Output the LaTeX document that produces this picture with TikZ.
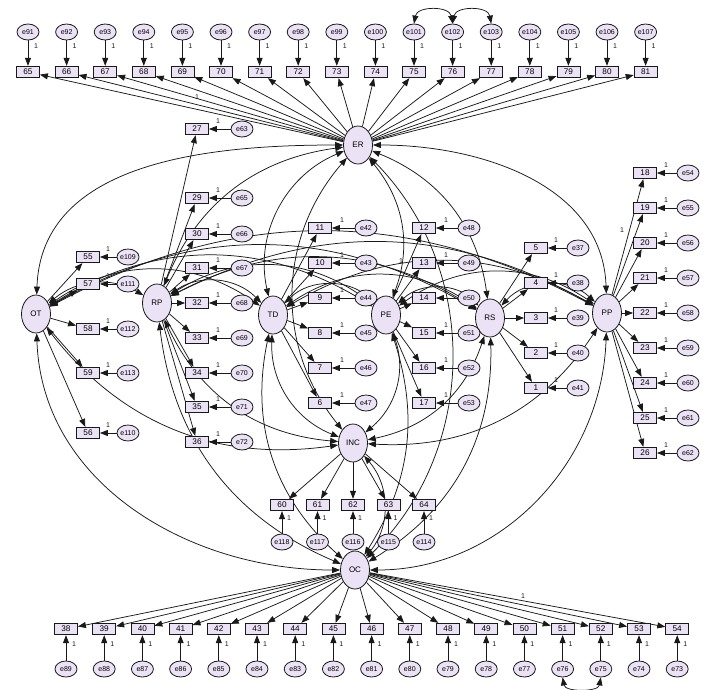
\documentclass[tikz,border=0pt]{standalone}
\usepackage{fontspec}
\setmainfont{Liberation Sans}
\usetikzlibrary{arrows.meta,shapes.geometric,backgrounds}
\definecolor{lav}{RGB}{236,226,245}
\definecolor{ink}{RGB}{25,25,25}
\begin{document}
\begin{tikzpicture}[x=1pt,y=1pt,
  lat/.style={ellipse,draw=ink,line width=0.8pt,fill=lav,minimum width=29pt,minimum height=38pt,inner sep=0pt,font=\fontsize{8}{9}\selectfont},
  obs/.style={rectangle,draw=ink,line width=0.8pt,fill=lav,minimum width=23pt,minimum height=11.5pt,inner sep=0pt,font=\fontsize{8.2}{9}\selectfont},
  err/.style={ellipse,draw=ink,line width=0.8pt,fill=lav,minimum width=22pt,minimum height=16pt,inner sep=0pt,font=\fontsize{7}{8}\selectfont},
  reg/.style={draw=ink,line width=0.75pt,-{Triangle[length=8pt,width=6pt]}},
  cov/.style={draw=ink,line width=0.75pt,{Triangle[length=8pt,width=6pt]}-{Triangle[length=8pt,width=6pt]}},
  one/.style={font=\fontsize{7}{8}\selectfont,inner sep=0pt,text=ink}]
\useasboundingbox (0,0) rectangle (706,-689);

% latent variables
\node[lat] (ER)  at (358,-145) {ER};
\node[lat] (OT)  at (36,-314)  {OT};
\node[lat] (RP)  at (157,-303) {RP};
\node[lat] (TD)  at (273,-315) {TD};
\node[lat] (PE)  at (386,-315) {PE};
\node[lat] (RS)  at (490,-318) {RS};
\node[lat] (PP)  at (607,-313) {PP};
\node[lat] (INC) at (353,-443) {INC};
\node[lat] (OC)  at (355,-570) {OC};

% top row (ER)
\foreach \i in {65,...,81}{
  \pgfmathsetmacro{\xx}{28+38.6*(\i-65)}
  \pgfmathtruncatemacro{\ee}{\i+26}
  \node[obs] (b\i) at (\xx,-72) {\i};
  \node[err] (e\ee) at (\xx,-32) {e\ee};
  \node[one] at (\xx+8,-46) {1};
}
% bottom row (OC)
\foreach \i in {38,...,54}{
  \pgfmathsetmacro{\xx}{66+38.2*(\i-38)}
  \pgfmathtruncatemacro{\ee}{127-\i}
  \node[obs] (b\i) at (\xx,-629) {\i};
  \node[err] (e\ee) at (\xx,-669) {e\ee};
  \node[one] at (\xx+8,-644) {1};
}
% INC row
\foreach \i in {60,...,64}{
  \pgfmathsetmacro{\xx}{282+35.5*(\i-60)}
  \pgfmathtruncatemacro{\ee}{178-\i}
  \node[obs] (b\i) at (\xx,-505) {\i};
  \node[err] (e\ee) at (\xx,-542) {e\ee};
  \node[one] at (\xx+7,-518) {1};
}
% OT column
\foreach \b/\y/\e in {55/257/109,57/284/111,58/329/112,59/373/113,56/433/110}{
  \node[obs] (b\b) at (88,-\y) {\b};
  \node[err] (e\e) at (128,-\y) {e\e};
  \node[one] at (108,-\y+8) {1};
}
% RP column
\foreach \b/\y/\e in {27/129/63,29/198/65,30/234/66,31/268/67,32/303/68,33/338/69,34/373/70,35/407/71,36/442/72}{
  \node[obs] (b\b) at (197,-\y) {\b};
  \node[err] (e\e) at (242,-\y) {e\e};
  \node[one] at (218,-\y+8) {1};
}
% TD column
\foreach \b/\y/\e in {11/228/42,10/263/43,9/298/44,8/333/45,7/368/46,6/403/47}{
  \node[obs] (b\b) at (320,-\y) {\b};
  \node[err] (e\e) at (366,-\y) {e\e};
  \node[one] at (342,-\y+8) {1};
}
% PE column
\foreach \b/\y/\e in {12/228/48,13/263/49,14/298/50,15/333/51,16/368/52,17/403/53}{
  \node[obs] (b\b) at (424,-\y) {\b};
  \node[err] (e\e) at (469,-\y) {e\e};
  \node[one] at (446,-\y+8) {1};
}
% RS column
\foreach \b/\y/\e in {5/248/37,4/283/38,3/318/39,2/353/40,1/388/41}{
  \node[obs] (b\b) at (536,-\y) {\b};
  \node[err] (e\e) at (578,-\y) {e\e};
  \node[one] at (556,-\y+8) {1};
}
% PP column
\foreach \b/\y/\e in {18/173/54,19/208/55,20/243/56,21/278/57,22/313/58,23/348/59,24/383/60,25/418/61,26/453/62}{
  \node[obs] (b\b) at (645,-\y) {\b};
  \node[err] (e\e) at (688,-\y) {e\e};
  \node[one] at (666,-\y+8) {1};
}
% fixed loadings
\node[one] at (197,-97) {1};
\node[one] at (401,-261) {1};
\node[one] at (622,-230) {1};
\node[one] at (523,-596) {1};

\begin{scope}[on background layer]
% loadings and error paths
\foreach \i in {65,...,81}{
  \pgfmathtruncatemacro{\ee}{\i+26}
  \draw[reg] (ER) -- (b\i);
  \draw[reg] (e\ee) -- (b\i);
}
\foreach \i in {38,...,54}{
  \pgfmathtruncatemacro{\ee}{127-\i}
  \draw[reg] (OC) -- (b\i);
  \draw[reg] (e\ee) -- (b\i);
}
\foreach \i in {60,...,64}{
  \pgfmathtruncatemacro{\ee}{178-\i}
  \draw[reg] (INC) -- (b\i);
  \draw[reg] (e\ee) -- (b\i);
}
\foreach \b/\e in {55/109,57/111,58/112,59/113,56/110}{
  \draw[reg] (OT) -- (b\b); \draw[reg] (e\e) -- (b\b);}
\foreach \b/\e in {27/63,29/65,30/66,31/67,32/68,33/69,34/70,35/71,36/72}{
  \draw[reg] (RP) -- (b\b); \draw[reg] (e\e) -- (b\b);}
\foreach \b/\e in {11/42,10/43,9/44,8/45,7/46,6/47}{
  \draw[reg] (TD) -- (b\b); \draw[reg] (e\e) -- (b\b);}
\foreach \b/\e in {12/48,13/49,14/50,15/51,16/52,17/53}{
  \draw[reg] (PE) -- (b\b); \draw[reg] (e\e) -- (b\b);}
\foreach \b/\e in {5/37,4/38,3/39,2/40,1/41}{
  \draw[reg] (RS) -- (b\b); \draw[reg] (e\e) -- (b\b);}
\foreach \b/\e in {18/54,19/55,20/56,21/57,22/58,23/59,24/60,25/61,26/62}{
  \draw[reg] (PP) -- (b\b); \draw[reg] (e\e) -- (b\b);}

% error covariances
\draw[cov] (e101.north) to[out=80,in=100,looseness=1.2] (e102.north);
\draw[cov] (e102.north) to[out=80,in=100,looseness=1.2] (e103.north);
\draw[cov] (e76.south) to[out=-80,in=-100,looseness=1.0] (e75.south);

% latent covariances
\draw[cov] (OT) to[out=88,in=180] (ER);
\draw[cov] (RP) to[bend left=30] (ER);
\draw[cov] (TD) to[bend left=40] (ER);
\draw[cov] (ER) to[bend left=30] (PE);
\draw[cov] (ER) to[bend left=30] (RS);
\draw[cov] (ER) to[out=0,in=92] (PP);
\draw[cov] (ER) to[bend right=40] (INC);
\draw[cov] (ER) to[bend left=45] (OC);
\draw[cov] (OT) to[bend left=35] (RP);
\draw[cov] (OT) to[bend left=35] (TD);
\draw[cov] (OT) to[bend left=32] (PE);
\draw[cov] (OT) to[bend left=30] (RS);
\draw[cov] (OT) to[bend left=28] (PP);
\draw[cov] (OT) to[bend right=30] (INC);
\draw[cov] (OT) to[out=-88,in=180] (OC);
\draw[cov] (RP) to[bend left=40] (TD);
\draw[cov] (RP) to[bend left=35] (PE);
\draw[cov] (RP) to[bend left=30] (RS);
\draw[cov] (RP) to[bend left=28] (PP);
\draw[cov] (RP) to[bend right=30] (INC);
\draw[cov] (RP) to[bend right=30] (OC);
\draw[cov] (TD) to[bend left=45] (PE);
\draw[cov] (TD) to[bend left=35] (RS);
\draw[cov] (TD) to[bend left=30] (PP);
\draw[cov] (TD) to[bend right=35] (INC);
\draw[cov] (TD) to[bend right=30] (OC);
\draw[cov] (PE) to[bend left=45] (RS);
\draw[cov] (PE) to[bend left=35] (PP);
\draw[cov] (INC) to[bend right=35] (PE);
\draw[cov] (OC) to[bend right=25] (PE);
\draw[cov] (RS) to[bend left=45] (PP);
\draw[cov] (INC) to[bend right=30] (RS);
\draw[cov] (OC) to[bend right=30] (RS);
\draw[cov] (INC) to[bend right=30] (PP);
\draw[cov] (OC) to[out=0,in=-92] (PP);
\draw[cov] (INC) to[bend left=40] (OC);
\end{scope}
\end{tikzpicture}
\end{document}
